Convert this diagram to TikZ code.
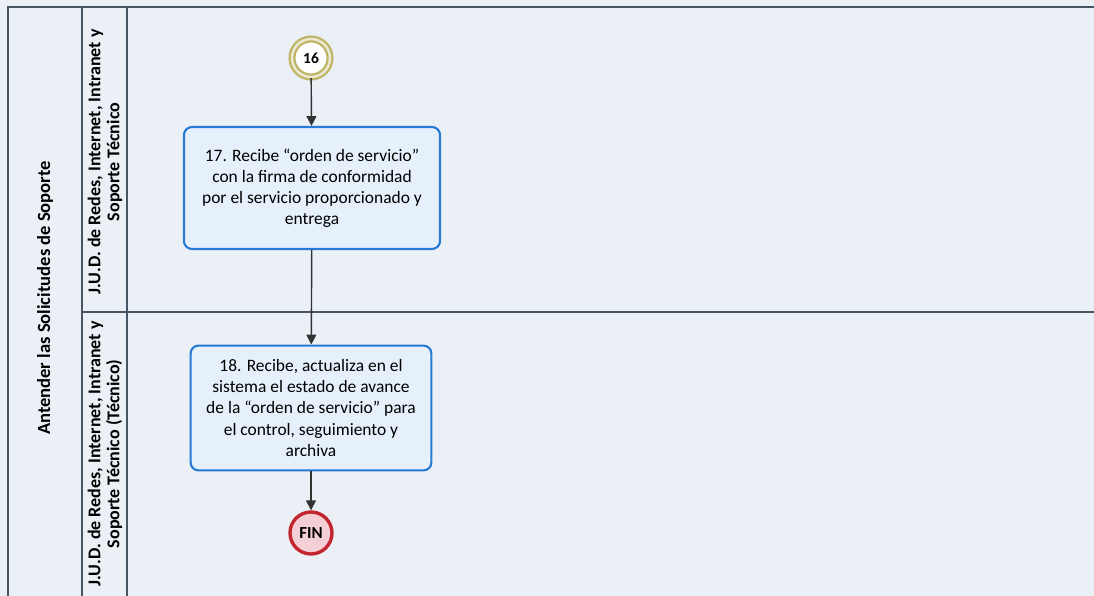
\documentclass[tikz,border=0pt]{standalone}
\usepackage{fontspec}
\setmainfont{Carlito}
\usetikzlibrary{arrows.meta, positioning, calc}
\definecolor{fondo}{RGB}{234, 240, 246}
\definecolor{linea}{RGB}{70, 84, 100}
\definecolor{azulTarea}{RGB}{40, 122, 212}
\definecolor{rellenoTarea}{RGB}{230, 240, 251}
\definecolor{olivo}{RGB}{190, 180, 100}
\definecolor{rojoFin}{RGB}{196, 38, 48}
\definecolor{rosaFin}{RGB}{244, 208, 214}

\begin{document}
\begin{tikzpicture}[x=0.025cm, y=-0.025cm,
        tarea/.style={rectangle, rounded corners=0.2cm, draw=azulTarea, line width=1.5pt, fill=rellenoTarea, align=center, font=\fontsize{12.4}{15}\selectfont, inner sep=2pt},
        enlace/.style={circle, draw=olivo, line width=1.6pt, double=olivo!30, double distance=1.8pt, fill=white, minimum size=0.95cm, inner sep=0pt, font=\bfseries\fontsize{11}{13}\selectfont},
        fin/.style={circle, draw=rojoFin, line width=2.4pt, fill=rosaFin, minimum size=1.05cm, inner sep=0pt, font=\bfseries\fontsize{12}{14}\selectfont},
        carril/.style={rotate=90, align=center, font=\bfseries\fontsize{12.8}{13.5}\selectfont},
        flecha/.style={-{Triangle[length=7pt, width=7pt]}, line width=1pt, draw=black!80}]

        % Fondo
        \useasboundingbox (0,0) rectangle (1094,596);
        \fill[fondo] (0,0) rectangle (1094,596);

        % Pool y carriles
        \draw[linea, line width=1pt] (8,596) -- (8,7) -- (1094,7);
        \draw[linea, line width=1pt] (82,7) -- (82,596);
        \draw[linea, line width=1pt] (127,7) -- (127,596);
        \draw[linea, line width=1pt] (82,312) -- (1094,312);

        \node[carril, font=\bfseries\fontsize{13.2}{15}\selectfont] (pool) at (45,298) {Antender las Solicitudes de Soporte};
        \node[carril] (carrilA) at (105,162) {J.U.D. de Redes, Internet, Intranet y\\Soporte Técnico};
        \node[carril] (carrilB) at (105,454) {J.U.D. de Redes, Internet, Intranet y\\Soporte Técnico (Técnico)};

        % Actividades
        \node[enlace] (e16) at (311,58) {16};
        \node[tarea, minimum width=6.4cm, minimum height=3.05cm] (t17) at (312,188) {17. Recibe “orden de servicio”\\con la firma de conformidad\\por el servicio proporcionado y\\entrega};
        \node[tarea, minimum width=6.02cm, minimum height=3.12cm] (t18) at (311,408) {18. Recibe, actualiza en el\\sistema el estado de avance\\de la “orden de servicio” para\\el control, seguimiento y\\archiva};
        \node[fin] (fin) at (311,533) {FIN};

        % Flechas
        \draw[flecha] (e16) -- (t17);
        \draw[flecha] (t17) -- (t18);
        \draw[flecha] (t18) -- (fin);
    \end{tikzpicture}
\end{document}
